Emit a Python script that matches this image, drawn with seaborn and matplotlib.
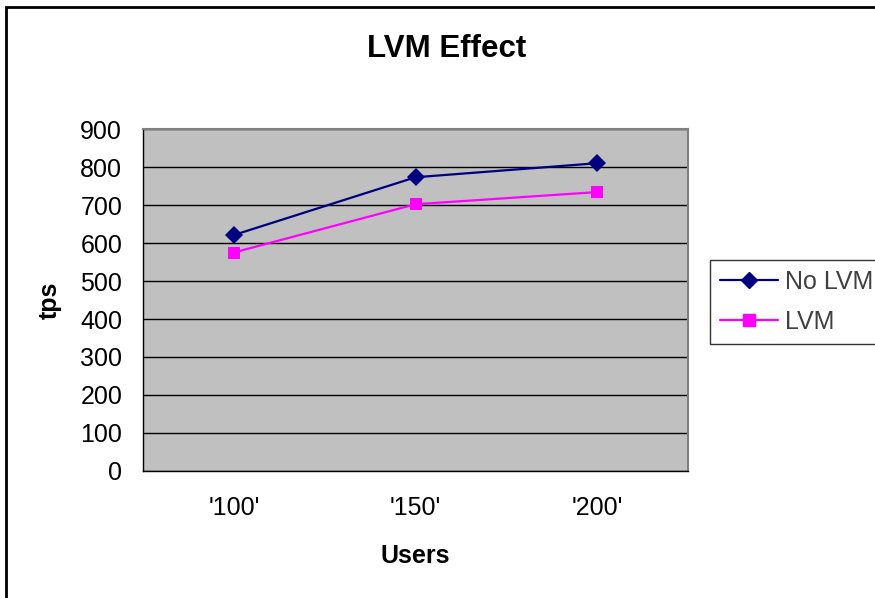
import matplotlib
matplotlib.use('Agg')
import matplotlib.pyplot as plt
import seaborn as sns
import pandas as pd
from matplotlib.patches import Rectangle

users = ["'100'", "'150'", "'200'"]
no_lvm = [621, 773, 810]
lvm = [575, 702, 734]

df = pd.DataFrame({
    'Users': users * 2,
    'tps': no_lvm + lvm,
    'series': ['No LVM'] * 3 + ['LVM'] * 3,
})
df['x'] = [0, 1, 2] * 2

sns.set_style('white')
plt.rcParams['font.family'] = ['Liberation Sans', 'DejaVu Sans']
plt.rcParams['text.color'] = 'black'
plt.rcParams['axes.labelcolor'] = 'black'
plt.rcParams['xtick.color'] = 'black'
plt.rcParams['ytick.color'] = 'black'

fig = plt.figure(figsize=(8.75, 5.98), dpi=100)
ax = fig.add_axes([143/875, 1 - 471/598, (688 - 143)/875, (471 - 129)/598])
ax.set_facecolor('#C0C0C0')

sns.lineplot(data=df, x='x', y='tps', hue='series', style='series',
             palette={'No LVM': '#000080', 'LVM': '#FF00FF'},
             markers={'No LVM': 'D', 'LVM': 's'}, dashes=False,
             markersize=9, linewidth=1.6, markeredgewidth=0, ax=ax, legend=False)

ax.set_xlim(-0.5, 2.5)
ax.set_ylim(0, 900)
ax.set_yticks(range(0, 901, 100))
ax.set_xticks([0, 1, 2])
ax.set_xticklabels(users)
ax.set_xticks([-0.5, 0.5, 1.5, 2.5], minor=True)
ax.tick_params(axis='x', which='major', length=0, labelsize=18, pad=18)
ax.tick_params(axis='x', which='minor', length=8, width=1, color='black', direction='out')
ax.tick_params(axis='y', length=7, width=1, color='black', direction='out', labelsize=18, pad=8)
ax.grid(axis='y', color='black', linewidth=1)
ax.set_axisbelow(True)
for side in ['left', 'bottom']:
    ax.spines[side].set_color('black')
    ax.spines[side].set_linewidth(1)
for side in ['top', 'right']:
    ax.spines[side].set_color('#808080')
    ax.spines[side].set_linewidth(1.5)

ax.set_xlabel('Users', fontsize=18, fontweight='bold', labelpad=17)
ax.set_ylabel('tps', fontsize=18, fontweight='bold', labelpad=13)
fig.text(447/875, 1 - 49/598, 'LVM Effect', ha='center', va='center',
         fontsize=22.5, fontweight='bold')

handles = [
    plt.Line2D([], [], color='#000080', marker='D', markersize=8, linewidth=1.6, label='No LVM'),
    plt.Line2D([], [], color='#FF00FF', marker='s', markersize=8, linewidth=1.6, label='LVM'),
]
leg = fig.legend(handles=handles, loc='upper left', bbox_to_anchor=(710/875, 1 - 260/598),
                 fontsize=18, frameon=True, fancybox=False, handlelength=2.3,
                 handletextpad=0.3, borderpad=0.4, borderaxespad=0, labelspacing=0.65)
leg.get_frame().set_edgecolor('black')
leg.get_frame().set_linewidth(1)
for t in leg.get_texts():
    t.set_color('#404040')

fig.patches.append(Rectangle((6/875, -0.1), 1.2, 1 - 7/598 + 0.1,
                             transform=fig.transFigure, fill=False,
                             edgecolor='black', linewidth=2))

fig.savefig('out.png', dpi=100)
